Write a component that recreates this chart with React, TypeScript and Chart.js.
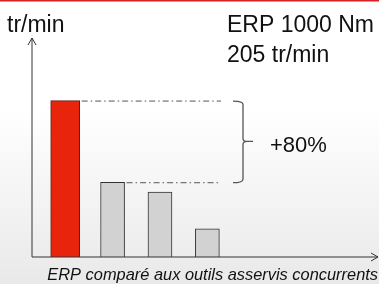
import React, { useEffect, useRef } from "react";
import { Chart, registerables } from "chart.js";

Chart.register(...registerables);

const categories = ["ERP", "Concurrent A", "Concurrent B", "Concurrent C"];
const erpValues = [205, null, null, null];
const competitorValues = [null, 98, 85, 37];
const yUnit = "tr/min";
const headline = ["ERP 1000 Nm", "205 tr/min"];
const gainLabel = "+80%";
const caption = "ERP comparé aux outils asservis concurrents";

const FONT = '"Liberation Sans", Arial, sans-serif';

const decor = {
  id: "decor",
  beforeDraw(chart: any) {
    const { ctx, width, height } = chart;
    ctx.save();
    const g = ctx.createLinearGradient(0, 110, 0, height);
    g.addColorStop(0, "#ffffff");
    g.addColorStop(1, "#e9e9e9");
    ctx.fillStyle = g;
    ctx.fillRect(0, 0, width, height);
    ctx.fillStyle = "#d42027";
    ctx.fillRect(0, 0, width, 1.5);
    ctx.restore();
  },
  afterDraw(chart: any) {
    const { ctx, chartArea } = chart;
    const x = chart.scales.x;
    const y = chart.scales.y;
    const left = chartArea.left;
    const bottom = chartArea.bottom;
    ctx.save();
    // axes
    ctx.strokeStyle = "#333";
    ctx.lineWidth = 1;
    ctx.beginPath();
    ctx.moveTo(left, bottom);
    ctx.lineTo(left, chartArea.top);
    ctx.moveTo(left - 4, chartArea.top + 7);
    ctx.lineTo(left, chartArea.top);
    ctx.lineTo(left + 4, chartArea.top + 7);
    ctx.moveTo(left, bottom);
    ctx.lineTo(chartArea.right, bottom);
    ctx.moveTo(chartArea.right - 7, bottom - 4);
    ctx.lineTo(chartArea.right, bottom);
    ctx.lineTo(chartArea.right - 7, bottom + 4);
    ctx.stroke();

    // dash-dot reference lines
    const erpTop = y.getPixelForValue(erpValues[0] as number);
    const compTop = y.getPixelForValue(competitorValues[1] as number);
    const erpRight = x.getPixelForValue(1) + 14.5;
    const compRight = x.getPixelForValue(2) + 12;
    const lineEnd = 221;
    ctx.strokeStyle = "#555";
    ctx.setLineDash([6, 3, 1.5, 3]);
    ctx.beginPath();
    ctx.moveTo(erpRight + 2, erpTop + 0.5);
    ctx.lineTo(lineEnd, erpTop + 0.5);
    ctx.moveTo(compRight + 2, compTop + 0.5);
    ctx.lineTo(lineEnd, compTop + 0.5);
    ctx.stroke();
    ctx.setLineDash([]);

    // brace
    const bx = 243;
    const mid = (erpTop + compTop) / 2;
    ctx.lineWidth = 1.3;
    ctx.beginPath();
    ctx.moveTo(233, erpTop + 0.5);
    ctx.quadraticCurveTo(bx, erpTop + 0.5, bx, erpTop + 4);
    ctx.lineTo(bx, mid - 3);
    ctx.quadraticCurveTo(bx, mid, bx + 4, mid);
    ctx.lineTo(253, mid);
    ctx.moveTo(bx + 4, mid);
    ctx.quadraticCurveTo(bx, mid, bx, mid + 3);
    ctx.lineTo(bx, compTop - 3);
    ctx.quadraticCurveTo(bx, compTop + 0.5, 233, compTop + 0.5);
    ctx.stroke();

    // texts
    ctx.fillStyle = "#111";
    ctx.textBaseline = "alphabetic";
    ctx.textAlign = "left";
    ctx.font = `23px ${FONT}`;
    ctx.fillText(yUnit, 7, 32);
    ctx.fillText(headline[0], 227, 32);
    ctx.fillText(headline[1], 227, 62);
    ctx.font = `22px ${FONT}`;
    ctx.fillText(gainLabel, 270, mid + 11);
    ctx.textAlign = "right";
    ctx.font = `italic 16.4px ${FONT}`;
    ctx.fillText(caption, 378, 280);
    ctx.restore();
  },
};

export default function App() {
  const ref = useRef<HTMLCanvasElement>(null);
  useEffect(() => {
    if (!ref.current) return;
    const chart = new Chart(ref.current, {
      type: "bar",
      data: {
        labels: categories,
        datasets: [
          {
            label: "ERP",
            data: erpValues.map((v, i) => ({ x: i + 1, y: v })) as any,
            backgroundColor: "#e8250c",
            borderColor: "#6a1a10",
            borderWidth: 1,
            barThickness: 29,
            grouped: false,
          },
          {
            label: "Concurrents",
            data: competitorValues.map((v, i) => ({ x: i + 1, y: v })) as any,
            backgroundColor: "#d2d2d2",
            borderColor: "#333",
            borderWidth: 1,
            barThickness: 24,
            grouped: false,
          },
        ],
      },
      options: {
        animation: false,
        responsive: false,
        layout: { padding: { left: 32, right: 1, top: 38, bottom: 27 } },
        plugins: { legend: { display: false }, tooltip: { enabled: false } },
        scales: {
          x: { type: "linear", min: 0.3, max: 7.6, offset: false, display: false },
          y: { min: 0, max: 287, display: false },
        },
      },
      plugins: [decor],
    });
    return () => chart.destroy();
  }, []);
  return (
    <canvas
      ref={ref}
      width={379}
      height={284}
      style={{ position: "absolute", left: 0, top: 0, width: 379, height: 284 }}
    />
  );
}
